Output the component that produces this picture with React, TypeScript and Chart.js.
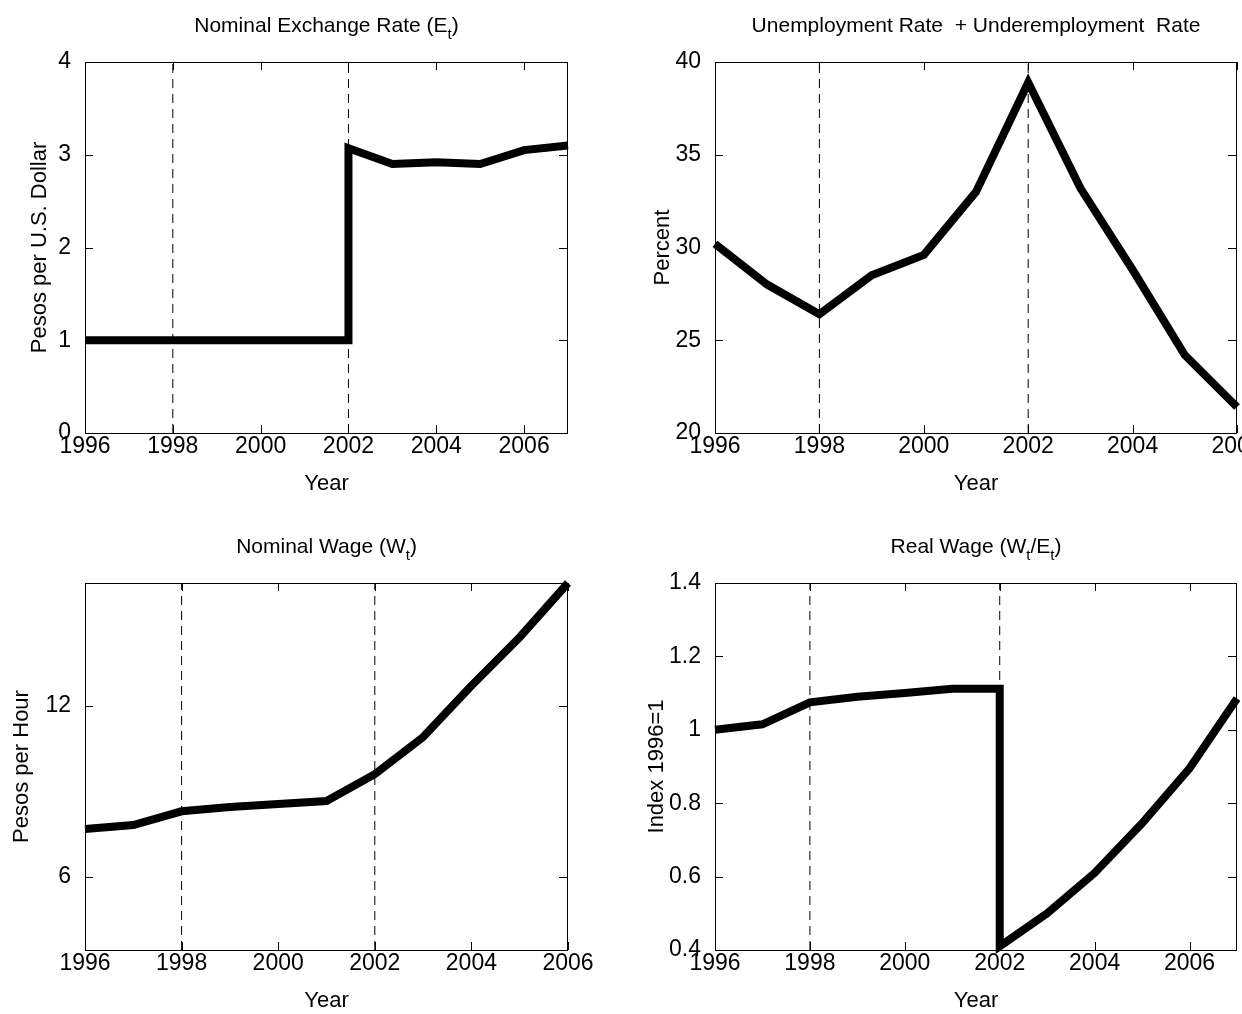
import React, { useEffect, useRef } from "react";
import Chart from "chart.js/auto";

const years = [1996, 1997, 1998, 1999, 2000, 2001, 2002, 2003, 2004, 2005, 2006, 2007];
const exchangeX = [1996, 1997, 1998, 1999, 2000, 2001, 2002, 2002, 2003, 2004, 2005, 2006, 2007];
const exchangeY = [1, 1, 1, 1, 1, 1, 1, 3.07, 2.9, 2.92, 2.9, 3.05, 3.1];
const unempX = years.slice(0, 11);
const unempY = [30.2, 28, 26.4, 28.5, 29.6, 33, 38.9, 33.2, 28.8, 24.2, 21.4];
const wageX = years.slice(0, 11);
const wageY = [7.68, 7.82, 8.3, 8.45, 8.56, 8.66, 9.6, 10.9, 12.7, 14.4, 16.3];
const realX = [1996, 1997, 1998, 1999, 2000, 2001, 2002, 2002, 2003, 2004, 2005, 2006, 2007];
const realY = [1.0, 1.015, 1.075, 1.09, 1.1, 1.112, 1.112, 0.41, 0.5, 0.61, 0.745, 0.895, 1.085];
const crisisYears = [1998, 2002];
const xTicks = [1996, 1998, 2000, 2002, 2004, 2006];

type Seg = [string, boolean];
type Panel = {
  title: Seg[];
  ylabel: string;
  ylabelX: number;
  xs: number[];
  ys: number[];
  xmax: number;
  ymin: number;
  ymax: number;
  yTicks: number[];
  yFmt: (v: number) => string;
  left: number;
  top: number;
  pad: { left: number; right: number; top: number; bottom: number };
};

const FONT = "'Liberation Sans', Arial, sans-serif";

const panels: Panel[] = [
  {
    title: [["Nominal Exchange Rate (E", false], ["t", true], [")", false]],
    ylabel: "Pesos per U.S. Dollar", ylabelX: 40,
    xs: exchangeX, ys: exchangeY, xmax: 2007, ymin: 0, ymax: 4,
    yTicks: [0, 1, 2, 3, 4], yFmt: (v) => String(v),
    left: 0, top: 0, pad: { left: 5, right: 53, top: 62, bottom: 14 },
  },
  {
    title: [["Unemployment Rate  + Underemployment  Rate", false]],
    ylabel: "Percent", ylabelX: 42,
    xs: unempX, ys: unempY, xmax: 2006, ymin: 20, ymax: 40,
    yTicks: [20, 25, 30, 35, 40], yFmt: (v) => String(v),
    left: 621, top: 0, pad: { left: 14, right: 5, top: 62, bottom: 14 },
  },
  {
    title: [["Nominal Wage (W", false], ["t", true], [")", false]],
    ylabel: "Pesos per Hour", ylabelX: 22,
    xs: wageX, ys: wageY, xmax: 2006, ymin: 3.44, ymax: 16.3,
    yTicks: [6, 12], yFmt: (v) => String(v),
    left: 0, top: 507, pad: { left: 5, right: 53, top: 76, bottom: 4 },
  },
  {
    title: [["Real Wage (W", false], ["t", true], ["/E", false], ["t", true], [")", false]],
    ylabel: "Index 1996=1", ylabelX: 36,
    xs: realX, ys: realY, xmax: 2007, ymin: 0.4, ymax: 1.4,
    yTicks: [0.4, 0.6, 0.8, 1, 1.2, 1.4], yFmt: (v) => (v === 1 ? "1" : v.toFixed(1)),
    left: 621, top: 507, pad: { left: 14, right: 5, top: 76, bottom: 4 },
  },
];

function PanelChart({ p }: { p: Panel }) {
  const ref = useRef<HTMLCanvasElement>(null);
  useEffect(() => {
    if (!ref.current) return;
    const boxPlugin = {
      id: "box",
      afterDraw(chart: any) {
        const { ctx, chartArea: a, scales } = chart;
        ctx.save();
        ctx.strokeStyle = "#000";
        ctx.lineWidth = 1;
        ctx.strokeRect(a.left + 0.5, a.top + 0.5, a.right - a.left - 1, a.bottom - a.top);
        const L = 8;
        ctx.beginPath();
        xTicks.forEach((t) => {
          const x = Math.round(scales.x.getPixelForValue(t)) + 0.5;
          ctx.moveTo(x, a.bottom); ctx.lineTo(x, a.bottom - L);
          ctx.moveTo(x, a.top); ctx.lineTo(x, a.top + L);
        });
        p.yTicks.forEach((t) => {
          const y = Math.round(scales.y.getPixelForValue(t)) + 0.5;
          ctx.moveTo(a.left, y); ctx.lineTo(a.left + L, y);
          ctx.moveTo(a.right - 1, y); ctx.lineTo(a.right - 1 - L, y);
        });
        ctx.stroke();
        ctx.fillStyle = "#000";
        // title with subscripts
        const big = `21px ${FONT}`;
        const small = `15px ${FONT}`;
        let w = 0;
        p.title.forEach(([s, sub]) => { ctx.font = sub ? small : big; w += ctx.measureText(s).width; });
        let x = (a.left + a.right) / 2 - w / 2;
        const y = a.top - 30;
        ctx.textBaseline = "alphabetic";
        ctx.textAlign = "left";
        p.title.forEach(([s, sub]) => {
          ctx.font = sub ? small : big;
          ctx.fillText(s, x, sub ? y + 7 : y);
          x += ctx.measureText(s).width;
        });
        // axis titles
        ctx.font = `22px ${FONT}`;
        ctx.textAlign = "center";
        ctx.textBaseline = "middle";
        ctx.fillText("Year", (a.left + a.right) / 2, a.bottom + 51);
        ctx.translate(p.ylabelX, (a.top + a.bottom) / 2);
        ctx.rotate(-Math.PI / 2);
        ctx.fillText(p.ylabel, 0, 0);
        ctx.restore();
      },
    };
    const dashed = crisisYears.map((c) => ({
      data: [{ x: c, y: p.ymin }, { x: c, y: p.ymax }],
      showLine: true, borderColor: "#000", borderWidth: 1, borderDash: [9, 6],
      pointRadius: 0,
    }));
    const chart = new Chart(ref.current, {
      type: "scatter",
      data: {
        datasets: [
          {
            data: p.xs.map((x, i) => ({ x, y: p.ys[i] })),
            showLine: true, borderColor: "#000", borderWidth: 8, pointRadius: 0,
            borderJoinStyle: "miter" as any, borderCapStyle: "butt" as any,
          },
          ...dashed,
        ] as any,
      },
      options: {
        animation: false,
        responsive: false,
        clip: false as any,
        layout: { padding: p.pad },
        plugins: { legend: { display: false }, tooltip: { enabled: false } },
        scales: {
          x: {
            type: "linear", min: 1996, max: p.xmax,
            afterBuildTicks: (s: any) => { s.ticks = xTicks.map((v) => ({ value: v })); },
            afterFit: (s: any) => { s.height = 60; s.paddingLeft = 0; s.paddingRight = 0; },
            grid: { display: false }, border: { display: false },
            ticks: { color: "#000", font: { family: FONT, size: 23 }, padding: -8, maxRotation: 0, autoSkip: false, callback: (v: any) => String(v) },
          },
          y: {
            type: "linear", min: p.ymin, max: p.ymax,
            afterBuildTicks: (s: any) => { s.ticks = p.yTicks.map((v) => ({ value: v })); },
            afterFit: (s: any) => { s.width = 80; s.paddingTop = 0; s.paddingBottom = 0; },
            grid: { display: false }, border: { display: false },
            ticks: { color: "#000", font: { family: FONT, size: 23 }, padding: 6, callback: (v: any) => p.yFmt(Number(v)) },
          },
        },
      } as any,
      plugins: [boxPlugin],
    });
    return () => chart.destroy();
  }, []);
  return (
    <canvas ref={ref} width={621} height={507}
      style={{ position: "absolute", left: p.left, top: p.top, width: 621, height: 507 }} />
  );
}

export default function App() {
  return (
    <div style={{ position: "absolute", left: 0, top: 0, width: 1242, height: 1014, background: "#fff", overflow: "hidden" }}>
      {panels.map((p, i) => <PanelChart key={i} p={p} />)}
    </div>
  );
}
